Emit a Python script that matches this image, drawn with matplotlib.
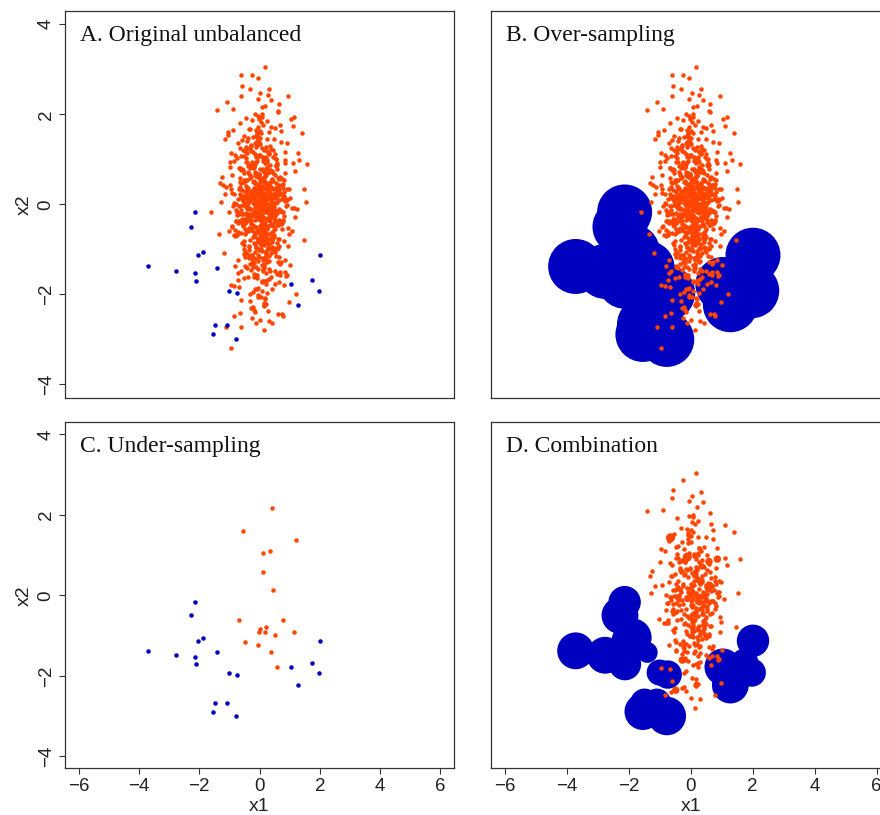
import numpy as np
import matplotlib
matplotlib.use('Agg')
import matplotlib.pyplot as plt

plt.rcParams['font.family'] = 'Liberation Sans'

# Minority class (20 obs)
min_x = [-2.13, -2.28, -1.88, -2.03, -3.71, -2.76, -2.14, -2.12, -1.40, -1.00,
         -0.74, -1.49, -1.09, -1.54, -0.77, 2.01, 1.73, 1.04, 1.97, 1.28]
min_y = [-0.17, -0.50, -1.05, -1.13, -1.38, -1.49, -1.53, -1.71, -1.42, -1.92,
         -1.97, -2.67, -2.67, -2.89, -3.00, -1.13, -1.68, -1.78, -1.92, -2.23]

# Frequency of each minority obs after over-sampling (B) and combination (D)
over_w = [49] * 20
comb_w = [17, 22, 24, 17, 22, 22, 15, 17, 7, 11, 13, 13, 13, 22, 24, 17, 13, 22, 13, 22]

# Majority class
maj_x = [
    0.12, -0.35, 0.58, -0.07, 0.24, -0.61, 0.03, 0.41, -0.19, 0.77, -0.44, 0.15, -0.02, 0.33, -0.88, 0.09, 0.52, -0.26, 0.68, -0.13,
    -0.51, 0.27, 0.05, -0.73, 0.36, -0.11, 0.92, -0.31, 0.18, -0.04, 0.47, -0.66, 0.21, 0.01, -0.39, 0.63, -0.16, 0.29, -0.95, 0.10,
    0.44, -0.22, 0.08, 1.05, -0.47, 0.19, -0.09, 0.55, -0.28, 0.34, -0.70, 0.13, 0.81, -0.05, 0.25, -0.57, 0.39, -0.14, 0.06, -0.83,
    0.71, -0.33, 0.16, -0.01, 0.49, -0.42, 0.23, -1.12, 0.30, -0.18, 0.60, -0.08, 0.11, -0.55, 0.85, -0.24, 0.04, 0.38, -0.64, 0.20,
    -0.10, 0.53, -0.37, 0.14, -0.78, 0.31, 0.00, -0.21, 0.97, -0.49, 0.17, 0.42, -0.12, -0.90, 0.26, 0.64, -0.30, 0.07, -0.46, 0.35,
    0.02, -0.59, 0.48, -0.15, 0.22, 1.18, -0.34, 0.09, -0.68, 0.57, -0.06, 0.28, -0.41, 0.74, -0.20, 0.13, -1.02, 0.45, -0.03, 0.19,
    -0.27, 0.66, -0.12, 0.37, -0.53, 0.05, 0.89, -0.38, 0.21, -0.76, 0.40, -0.17, 0.03, 0.59, -0.45, 0.14, -0.08, 1.25, -0.32, 0.24,
    0.50, -0.02, -0.62, 0.32, 0.10, -0.23, 0.79, -0.50, 0.18, -0.98, 0.46, -0.11, 0.27, -0.36, 0.62, 0.00, -0.71, 0.35, -0.16, 0.08,
    -0.43, 0.15, 0.72, -0.29, 0.04, -0.84, 0.39, -0.07, 0.54, -0.19, 0.23, -1.21, 0.61, -0.35, 0.11, -0.52, 0.83, -0.01, 0.30, -0.25,
    0.17, -0.65, 0.43, -0.10, 1.08, -0.40, 0.26, -0.05, 0.67, -0.56, 0.12, -0.30, 0.37, -0.92, 0.06, 0.51, -0.14, 0.22, -0.48, 0.76,
    -0.06, 0.33, -0.74, 0.20, -0.18, 0.58, -0.37, 0.02, 0.94, -0.27, 0.41, -0.60, 0.15, -0.09, 0.70, -0.44, 0.25, -1.35, 0.47, 0.04,
    0.29, -0.13, 0.56, -0.52, 0.09, -0.33, 0.82, -0.04, 0.36, -0.80, 0.18, 0.63, -0.22, 0.01, -0.58, 0.44, -0.16, 1.32, -0.39, 0.12,
    -0.69, 0.38, -0.03, 0.21, -0.47, 0.73, -0.24, 0.08, 0.50, -1.06, 0.27, -0.12, 0.65, -0.31, 0.16, -0.54, 0.03, 0.90, -0.20, 0.34,
    0.07, -0.41, 0.60, -0.15, 0.31, -0.87, 0.19, -0.02, 0.45, -0.63, 1.12, -0.28, 0.13, -0.07, 0.53, -0.45, 0.24, -0.11, 0.78, -0.34,
    -0.19, 0.48, -0.57, 0.06, 0.86, -0.26, 0.35, -0.72, 0.11, -0.04, 0.57, -0.39, 0.20, -1.15, 0.42, -0.09, 0.69, -0.32, 0.02, 0.26,
    0.40, -0.08, -0.50, 0.14, 0.99, -0.21, 0.32, -0.66, 0.05, 0.61, -0.36, 0.18, -0.13, 0.75, -0.48, 0.09, -0.82, 0.46, -0.03, 0.22,
    -0.30, 0.55, -0.11, 0.28, -0.61, 0.10, 1.40, -0.42, 0.16, -0.05, 0.64, -0.25, 0.37, -0.93, 0.07, -0.17, 0.52, -0.55, 0.23, 0.88,
    0.13, -0.46, 0.30, -0.01, -0.75, 0.43, -0.29, 0.71, -0.14, 0.19, -1.28, 0.50, -0.06, 0.34, -0.40, 0.80, -0.23, 0.04, 0.59, -0.52,
    -0.15, 0.25, -0.67, 0.47, 0.01, -0.35, 0.91, -0.10, 0.39, -0.58, 0.12, 1.02, -0.44, 0.17, -0.20, 0.66, -0.79, 0.31, -0.04, 0.08,
    -0.21, 0.46, 0.02, -0.58, 0.31, 0.13, -0.37, 0.85, -0.09, 0.24, -0.72, 0.39, -0.15, 0.06, 0.61, -0.43, 0.18, -0.97, 0.27, -0.03,
    0.54, -0.12, 0.33, -0.49, 0.09, 1.07, -0.26, 0.15, -0.64, 0.42, 0.00, -0.31, 0.74, -0.18, 0.22, -0.81, 0.36, -0.06, 0.49, -0.40,
    -0.08, 0.29, -0.55, 0.67, 0.11, -0.23, 0.40, -1.09, 0.19, -0.02, 0.58, -0.35, 0.25, -0.69, 0.04, 0.82, -0.13, 0.32, -0.47, 0.14,
    0.37, -0.66, 0.07, -0.17, 0.93, -0.29, 0.21, -0.04, 0.51, -0.53, 0.16, -0.10, 0.70, -0.38, 0.28, -1.19, 0.45, -0.20, 0.03, 0.60,
    -0.33, 0.12, 0.79, -0.45, 0.23, -0.07, 0.38, -0.77, 0.05, 0.56, -0.25, 0.17, -0.60, 1.15, -0.14, 0.30, -0.42, 0.08, 0.65, -0.01,
    0.20, -0.50, 0.44, -0.11, -0.86, 0.35, 0.01, -0.28, 0.72, -0.19, 0.10, -0.63, 0.53, -0.05, 0.26, -0.39, 0.88, -0.24, 0.14, -1.01,
    0.63, -0.16, 0.27, -0.70, 0.08, 0.47, -0.34, 0.19, -0.02, 0.96, -0.56, 0.12, -0.22, 0.41, -0.46, 0.03, 0.69, -0.30, 0.23, -0.09,
    -0.44, 0.34, -0.06, 0.58, -0.27, 0.15, -0.91, 0.48, -0.12, 0.25, -0.52, 1.22, -0.18, 0.07, 0.39, -0.65, 0.18, -0.03, 0.55, -0.36,
    0.11, -0.79, 0.30, -0.14, 0.66, -0.41, 0.02, 0.45, -0.23, 0.13, -0.59, 0.76, -0.08, 0.28, -1.31, 0.37, -0.19, 0.09, -0.48, 0.84,
    -0.04, 0.52, -0.32, 0.21, -0.67, 0.06, 0.87, -0.15, 0.34, -0.43, 0.16, -0.01, 0.59, -0.26, 0.43, -0.83, 0.10, -0.11, 1.01, -0.37,
    0.28, -0.20, 0.05, -0.54, 0.71, -0.09, 0.17, -0.36, 0.50, -0.73, 0.24, 0.01, -0.45, 0.64, -0.16, 0.35, -0.99, 0.12, -0.06, 0.42,
    -0.57, 0.19, -0.01, 0.80, -0.30, 0.08, -0.64, 0.33, -0.13, 0.54, -0.24, 0.15, 1.10, -0.47, 0.26, -0.04, 0.47, -0.75, 0.06, -0.17,
    0.32, -0.38, 0.62, -0.05, 0.14, -0.88, 0.40, -0.21, 0.09, 0.73, -0.50, 0.22, -0.12, 0.03, -0.61, 0.57, -0.27, 0.17, -1.14, 0.29,
    -0.10, 0.68, -0.42, 0.04, 0.36, -0.19, 0.13, -0.70, 0.90, -0.33, 0.20, -0.02, 0.46, -0.55, 0.11, -0.25, 0.77, -0.08, 0.31, -0.48,
    0.16, -0.62, 0.25, -0.14, 0.52, -0.03, -0.40, 0.83, -0.28, 0.07, 0.37, -0.92, 0.19, -0.11, 0.61, -0.35, 0.02, 1.28, -0.21, 0.10,
    -0.53, 0.23, 0.00, -0.32, 0.69, -0.16, 0.44, -0.74, 0.12, -0.06, 0.55, -0.29, 0.27, -1.05, 0.08, 0.39, -0.44, 0.18, -0.13, 0.75,
    0.05, -0.27, 0.48, -0.68, 0.15, -0.10, 0.92, -0.37, 0.24, -0.01, -0.57, 0.35, -0.18, 0.63, -0.41, 0.10, -0.80, 0.28, 0.01, -0.23,
    0.41, -0.12, -0.46, 0.17, 0.58, -0.84, 0.06, -0.30, 0.31, -0.05, 1.17, -0.39, 0.22, -0.14, 0.50, -0.62, 0.13, -0.02, 0.78, -0.26,
    -0.35, 0.09, 0.64, -0.19, -0.09, 0.38, -0.53, 0.20, -0.96, 0.46, -0.07, 0.27, -0.31, 0.71, 0.04, -0.44, 0.14, -0.66, 0.33, -0.15,
    0.24, -0.02, -0.73, 0.51, -0.24, 0.12, 0.35, -0.49, 0.86, -0.11, 0.18, -0.34, 0.03, 0.57, -0.58, 0.26, -1.24, 0.44, -0.07, 0.15,
    0.18, -0.61, -0.26, -0.04, 0.33, -0.31, -0.61, 0.27, -1.41, 1.16, 1.58, 1.49, 1.54, -1.61, 1.46, -0.95, 0.14, -0.12, 0.30, 0.62,
    -0.84, -1.10, 0.99, 0.82,
]
maj_y = [
    0.35, -1.12, 0.78, -0.24, 1.46, -0.63, 0.05, -1.87, 0.52, -0.38, 1.03, -0.91, 0.19, -0.07, 2.12, -1.34, 0.64, -0.52, -0.15, 1.28,
    -0.81, 0.42, -2.05, 0.11, -0.46, 0.93, -1.58, 0.27, -0.02, 1.71, -0.69, 0.58, -1.21, -0.30, 0.84, -0.11, -2.38, 0.16, 1.15, -0.57,
    0.70, -0.19, -1.03, 1.89, -0.42, 0.22, -0.75, 0.48, -1.45, 0.01, 1.36, -0.88, -0.26, 0.61, -1.69, 0.31, 2.31, -0.50, -0.09, 0.97,
    -1.27, 0.14, -0.33, 1.09, -0.72, 0.55, -2.21, 0.38, -0.13, 0.86, -0.97, 1.58, -0.44, 0.07, -1.51, 0.29, -0.61, 1.22, -0.04, -0.85,
    0.46, -1.76, 0.02, 0.74, -0.36, -1.15, 1.62, -0.21, 0.33, -0.66, 0.91, -2.63, 0.18, -0.48, 1.18, -0.93, 0.59, -0.14, -1.39, 0.25,
    -0.55, 1.43, -0.06, -1.06, 0.67, -0.28, 0.12, -1.93, 0.81, -0.40, 1.97, -0.78, 0.36, -0.17, -1.31, 0.53, -0.60, 1.05, -0.01, -2.11,
    0.89, -0.34, -0.95, 0.24, 1.52, -0.71, 0.09, -1.62, 0.44, -0.23, 0.73, -1.19, 2.48, -0.45, 0.15, -0.83, 1.31, -0.10, -0.58, 0.39,
    -1.48, 0.62, -0.12, 1.13, -0.64, 0.04, -2.47, 0.50, -0.31, 0.95, -1.01, 0.21, -0.20, 1.68, -0.76, 0.30, -1.24, 0.77, -0.03, -0.49,
    0.17, -0.89, 1.39, -0.37, 0.56, -1.81, 0.08, -0.62, 1.01, -0.16, -1.10, 0.43, 2.04, -0.53, 0.26, -0.99, 0.69, -0.27, -1.66, 0.13,
    -0.41, 1.24, -0.80, 0.32, -0.08, -1.42, 0.83, -0.56, 1.77, -0.22, 0.49, -2.15, -0.05, 0.66, -0.74, 1.12, -0.35, 0.20, -1.17, 0.57,
    1.50, -0.29, -0.68, 0.10, -1.55, 0.87, -0.11, 0.37, -0.92, 1.30, -0.43, -2.72, 0.60, -0.18, 0.23, -1.08, 1.84, -0.65, 0.03, -0.37,
    -0.96, 0.45, -0.14, 1.07, -0.59, -1.99, 0.28, -0.32, 0.76, -1.36, 0.06, 2.22, -0.47, 0.52, -0.87, 0.15, -1.22, 0.98, -0.25, -0.70,
    0.34, -1.61, 0.68, -0.09, 1.19, -0.54, -0.21, 0.41, -1.05, 1.55, -0.77, 0.00, -1.73, 0.80, -0.39, 0.19, -0.12, 1.36, -2.29, 0.47,
    -0.61, 0.11, -1.28, 0.72, -0.33, 1.64, -0.84, 0.26, -0.07, -1.47, 0.92, -0.44, 0.58, -1.89, 0.14, 1.27, -0.52, -0.19, 0.36, -1.02,
    0.82, -0.26, 2.62, -0.73, 0.07, -1.13, 0.49, -0.40, 1.03, -2.02, 0.31, -0.60, -0.15, 1.45, -0.94, 0.63, -1.33, 0.21, -0.48, 0.94,
    -0.16, -1.58, 0.54, 1.21, -0.67, 0.16, -0.88, 1.80, -0.30, 0.40, -1.20, 0.71, -0.04, -2.44, 0.27, -0.56, 1.10, -0.23, 0.65, -0.79,
    0.09, 1.01, -1.40, -0.35, 0.47, -0.86, 1.58, 0.02, -1.70, 0.60, -0.13, 0.85, -1.09, 0.33, 2.00, -0.62, -0.27, 0.76, -1.52, 0.12,
    -0.50, 0.29, -0.99, 1.34, -0.18, 0.55, -2.30, -0.42, 0.90, -0.71, 0.06, 1.69, -1.26, 0.38, -0.08, -0.82, 1.16, -0.36, 0.18, -1.63,
    0.66, -0.11, -1.84, 0.24, 1.48, -0.58, 0.35, -0.97, -0.22, 0.79, -1.44, 0.13, 1.92, -0.46, 0.50, -1.16, 0.01, -0.31, 1.06, -0.76,
    -0.72, 0.18, 1.33, -0.41, -1.26, 0.57, -0.05, 0.92, -1.63, 0.31, -0.20, 1.71, -0.88, 0.08, -0.47, 1.14, -2.08, 0.43, -0.13, 0.66,
    0.03, -0.95, 0.75, -0.32, 1.94, -0.60, 0.24, -1.41, 0.49, -0.10, -0.79, 1.26, 0.12, -2.34, 0.38, -0.56, 0.87, -1.12, 0.21, -0.27,
    1.41, -0.49, -0.02, 0.61, -1.19, 0.30, -0.73, 2.27, -0.16, 0.46, -1.55, 0.07, 0.99, -0.38, -0.91, 0.54, -0.08, 1.60, -1.36, 0.15,
    -0.29, 0.80, -1.73, 0.11, -0.53, 1.19, -0.12, 0.35, -0.98, 0.69, -2.19, 0.26, -0.44, 1.47, -0.06, -1.08, 0.52, 0.14, -0.67, 2.08,
    0.64, -1.47, -0.18, 0.40, 1.05, -0.83, 0.02, -0.37, 1.82, -1.14, 0.27, -0.61, 0.76, -0.09, -1.89, 0.33, 1.23, -0.51, 0.10, -0.23,
    -1.04, 0.50, -0.26, 1.52, -0.69, 0.19, -2.56, 0.86, -0.14, 0.37, -0.89, 1.08, -0.35, 0.05, -1.29, 0.71, -0.04, 1.87, -0.58, -0.17,
    0.29, -0.66, 1.17, -1.53, 0.09, -0.30, 0.68, -0.02, -1.00, 2.41, -0.46, 0.16, -1.22, 0.56, 0.93, -0.74, 0.22, -0.11, -1.78, 0.44,
    -0.39, 1.29, 0.06, -0.86, 0.60, -1.33, 0.25, -0.19, 1.66, -0.54, 0.13, -2.00, 0.82, -0.07, -0.63, 0.39, 1.01, -1.16, 0.17, -0.33,
    0.97, -0.12, -1.43, 0.32, -0.76, 1.40, -0.25, 0.04, -1.94, 0.73, -0.40, 0.20, 1.56, -0.97, 0.48, -0.15, -0.70, 2.15, -0.01, -1.24,
    -0.57, 0.36, 0.85, -1.09, -0.03, 0.55, -1.60, 1.12, -0.31, 0.14, -2.26, 0.67, -0.20, 0.95, -0.84, 0.23, -0.44, 1.35, -1.35, 0.08,
    0.41, -1.21, 0.12, -0.48, 1.63, -0.14, 0.70, -0.92, 0.26, -1.68, 0.01, 1.09, -0.62, 0.35, -0.10, -1.47, 0.83, -0.28, 2.34, -0.77,
    -0.21, 0.62, -1.02, 0.19, -0.36, 1.24, -2.41, 0.47, -0.08, 0.88, -1.28, 0.10, 1.74, -0.55, 0.32, -0.82, -0.13, 1.03, -0.45, 0.02,
    1.11, -0.34, 0.28, -1.85, 0.58, -0.04, -0.71, 1.50, -0.23, 0.42, -1.11, 0.17, -0.51, 0.79, -2.13, 0.06, 1.32, -0.64, 0.23, -0.96,
    -0.06, -1.57, 0.93, -0.24, 0.34, -0.85, 1.77, -0.42, 0.09, -1.32, 0.64, -0.17, -0.60, 1.20, 0.00, -2.52, 0.45, -0.30, 0.72, -1.06,
    0.52, 0.13, -0.80, 1.36, -0.40, -1.18, 0.21, 0.98, -0.11, -1.71, 0.37, -0.50, 2.19, -0.26, 0.59, -0.94, 0.04, 1.15, -1.39, -0.12,
    -0.90, 0.77, -0.15, 0.30, -1.50, 0.47, 1.21, -0.65, 0.07, -2.06, 0.84, -0.29, 0.15, 1.61, -0.78, 0.38, -0.07, -1.17, 0.63, -0.41,
    0.24, -0.58, 1.45, -0.22, -1.38, 0.69, -0.01, 0.36, -0.87, 1.90, -0.33, 0.11, -1.61, 0.56, -0.09, 1.04, -0.70, -2.36, 0.29, 0.81,
    -0.47, 1.06, -0.19, 0.50, -1.00, 0.03, 1.58, -0.79, 0.27, -1.44, 0.75, -0.24, -0.02, 2.01, -0.54, 0.18, -1.23, 0.41, -0.35, 0.90,
    0.15, -0.82, 0.43, -1.30, 0.96, -0.05, -0.43, 1.27, -1.80, 0.33, 0.09, -0.67, 1.68, -0.14, -0.99, 0.54, -2.24, 0.22, 0.71, -0.27,
    -0.13, 1.38, -0.61, 0.20, -1.13, 0.78, -0.37, 0.01, 1.17, -1.56, 0.49, -0.21, -0.86, 0.92, 0.12, -1.97, 0.60, -0.48, 1.49, -0.03,
    3.04, 2.87, 2.87, 2.81, 2.57, 2.55, 2.41, 2.42, 2.09, 1.94, 0.90, 0.35, 0.05, -0.18, -0.80, -3.19, -2.80, -2.64, -2.58, -2.43,
    -2.49, -2.73, -2.17, -1.80,
]

# Under-sampled majority (C)
under_x = [0.40, -0.54, 1.22, 0.12, 0.35, 0.11, 0.45, -0.69, 0.77, 0.00,
           -0.03, 0.21, 0.19, 0.53, 1.16, -0.48, -0.04, 0.39, 0.57]
under_y = [2.16, 1.61, 1.38, 1.05, 1.09, 0.57, 0.13, -0.61, -0.61, -0.83,
           -0.90, -0.79, -0.91, -0.98, -0.90, -1.16, -1.23, -1.42, -1.78]

# Majority obs drawn more than once in the combined sample (D)
dup_x = [-0.65, 0.86, -0.11, 0.59, -0.48, -0.27]
dup_y = [1.43, 0.90, 0.95, 0.84, -2.36, -1.61]
dup_w = [3, 2, 3, 2, 2, 2]

titles = ['A. Original unbalanced', 'B. Over-sampling', 'C. Under-sampling', 'D. Combination']

ORANGE = '#FF4500'
BLUE = '#0000C0'
DOT = 10.5
PER_W = 32  # marker area (pt^2) per frequency unit

fig = plt.figure(figsize=(8.8, 8.15), dpi=100)
axA = fig.add_axes([0.0739, 0.5117, 0.4420, 0.4752])
axB = fig.add_axes([0.5576, 0.5117, 0.4545, 0.4752])
axC = fig.add_axes([0.0739, 0.0573, 0.4420, 0.4245])
axD = fig.add_axes([0.5576, 0.0573, 0.4545, 0.4245])
axes = [axA, axB, axC, axD]

# A: original data
axA.scatter(maj_x, maj_y, s=DOT, c=ORANGE, linewidths=0)
axA.scatter(min_x, min_y, s=DOT, c=BLUE, linewidths=0)

# B: minority replicated up to the majority size
axB.scatter(min_x, min_y, s=np.array(over_w) * PER_W, c=BLUE, linewidths=0)
axB.scatter(maj_x, maj_y, s=DOT, c=ORANGE, linewidths=0)

# C: majority cut down to the minority size
axC.scatter(under_x, under_y, s=DOT, c=ORANGE, linewidths=0)
axC.scatter(min_x, min_y, s=DOT, c=BLUE, linewidths=0)

# D: both, majority halved
axD.scatter(min_x, min_y, s=np.array(comb_w) * PER_W, c=BLUE, linewidths=0)
axD.scatter(maj_x[::2], maj_y[::2], s=DOT, c=ORANGE, linewidths=0)
axD.scatter(dup_x, dup_y, s=np.array(dup_w) * PER_W * 0.45, c=ORANGE, linewidths=0)

for ax, title in zip(axes, titles):
    ax.set_xlim(-6.45, 6.45)
    ax.set_ylim(-4.3, 4.3)
    for sp in ax.spines.values():
        sp.set_linewidth(0.9)
        sp.set_color('#333333')
    ax.annotate(title, xy=(0, 1), xycoords='axes fraction', xytext=(15, -30),
                textcoords='offset pixels', ha='left', va='baseline',
                family='Liberation Serif', fontsize=17, color='#111111')
    ax.tick_params(direction='out', length=4, width=0.8, color='#333333',
                   labelsize=13.5, labelcolor='#222222')

for ax in [axA, axC]:
    ax.set_yticks([-4, -2, 0, 2, 4])
    ax.tick_params(axis='y', labelrotation=90, pad=3.5)
    for lab in ax.get_yticklabels():
        lab.set_va('center')
    ax.set_ylabel('x2', fontsize=14, color='#222222')
    ax.yaxis.set_label_coords(-0.082, 0.5)
for ax in [axB, axD]:
    ax.set_yticks([])

for ax in [axC, axD]:
    ax.set_xticks([-6, -4, -2, 0, 2, 4, 6])
    ax.tick_params(axis='x', pad=3)
    ax.set_xlabel('x1', fontsize=14, color='#222222')
    ax.xaxis.set_label_coords(0.5, -0.086)
for ax in [axA, axB]:
    ax.set_xticks([])

fig.savefig('out.png', dpi=100)
